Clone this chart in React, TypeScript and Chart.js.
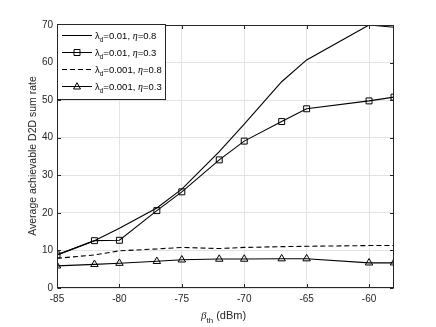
import React, { useEffect, useRef } from "react";
import { Chart, registerables } from "chart.js";
Chart.register(...registerables);

const xValues = [-85, -82, -80, -77, -75, -72, -70, -67, -65, -60, -58];
// λd=0.01, η=0.8
const seriesA = [8.8, 12.6, 15.9, 21.3, 26.3, 36.3, 43.6, 54.9, 60.7, 70.0, 69.4];
// λd=0.01, η=0.3
const seriesB = [8.8, 12.6, 12.7, 20.6, 25.6, 34.1, 39.1, 44.3, 47.7, 49.8, 50.8];
// λd=0.001, η=0.8
const seriesC = [7.9, 8.8, 9.9, 10.4, 10.8, 10.5, 10.8, 11.0, 11.1, 11.3, 11.3];
// λd=0.001, η=0.3
const seriesD = [5.9, 6.3, 6.6, 7.1, 7.5, 7.7, 7.7, 7.8, 7.8, 6.7, 6.7];

const xTicks = [-85, -80, -75, -70, -65, -60];
const yTicks = [0, 10, 20, 30, 40, 50, 60, 70];
const legendLambda = ["0.01", "0.01", "0.001", "0.001"];
const legendEta = ["0.8", "0.3", "0.8", "0.3"];
const yTitle = "Average achievable D2D sum rate";

const FONT = '"Liberation Sans", Arial, Helvetica, sans-serif';
const AXIS = "#262626";

const toPts = (ys: number[]) => xValues.map((x, i) => ({ x, y: ys[i] }));

const decorPlugin = {
  id: "decor",
  afterDatasetsDraw(chart: any) {
    const ctx = chart.ctx as CanvasRenderingContext2D;
    const { left, right, top, bottom } = chart.chartArea;
    const xs = chart.scales.x;
    const ys = chart.scales.y;
    ctx.save();
    // box
    ctx.strokeStyle = AXIS;
    ctx.lineWidth = 1;
    const L = Math.round(left) + 0.5, R = Math.round(right) - 0.5;
    const T = Math.round(top) + 0.5, B = Math.round(bottom) - 0.5;
    ctx.strokeRect(L, T, R - L, B - T);
    // inward ticks
    const tl = 3.5;
    ctx.beginPath();
    xTicks.forEach((v) => {
      const px = Math.round(xs.getPixelForValue(v)) + 0.5;
      ctx.moveTo(px, B); ctx.lineTo(px, B - tl);
      ctx.moveTo(px, T); ctx.lineTo(px, T + tl);
    });
    yTicks.forEach((v) => {
      const py = Math.round(ys.getPixelForValue(v)) + 0.5;
      ctx.moveTo(L, py); ctx.lineTo(L + tl, py);
      ctx.moveTo(R, py); ctx.lineTo(R - tl, py);
    });
    ctx.stroke();

    // x title
    ctx.fillStyle = AXIS;
    ctx.textBaseline = "alphabetic";
    ctx.textAlign = "left";
    let x = 201;
    const by = 319;
    ctx.font = `italic 11px "Liberation Serif", serif`;
    ctx.fillText("β", x, by);
    x += ctx.measureText("β").width;
    ctx.font = `8px ${FONT}`;
    ctx.fillText("th", x, by + 4);
    x += ctx.measureText("th").width;
    ctx.font = `11px ${FONT}`;
    ctx.fillText(" (dBm)", x, by);

    // y title
    ctx.save();
    ctx.translate(36, 156);
    ctx.rotate(-Math.PI / 2);
    ctx.textAlign = "center";
    ctx.font = `10.5px ${FONT}`;
    ctx.fillText(yTitle, 0, 0);
    ctx.restore();

    // legend
    const bx = 57.5, bt = 24.5, bw = 108, bh = 75;
    ctx.fillStyle = "#ffffff";
    ctx.fillRect(bx, bt, bw, bh);
    ctx.strokeStyle = AXIS;
    ctx.lineWidth = 1;
    ctx.strokeRect(bx, bt, bw, bh);
    const rowsY = [35.5, 52.5, 69.5, 86.5];
    const dsets = chart.data.datasets;
    rowsY.forEach((ry, i) => {
      const ds = dsets[i];
      ctx.save();
      ctx.strokeStyle = "#000";
      ctx.lineWidth = 1;
      ctx.setLineDash(ds.borderDash || []);
      ctx.beginPath();
      ctx.moveTo(62, ry);
      ctx.lineTo(92, ry);
      ctx.stroke();
      ctx.setLineDash([]);
      if (ds.pointRadius > 0) {
        ctx.beginPath();
        if (ds.pointStyle === "rect") {
          ctx.rect(74, ry - 3, 6, 6);
        } else {
          ctx.moveTo(77, ry - 3.8);
          ctx.lineTo(80.5, ry + 2.5);
          ctx.lineTo(73.5, ry + 2.5);
          ctx.closePath();
        }
        ctx.stroke();
      }
      ctx.restore();
      ctx.fillStyle = "#000";
      ctx.textBaseline = "alphabetic";
      let tx = 95;
      const tb = ry + 3.5;
      ctx.font = `9.5px ${FONT}`;
      ctx.fillText("λ", tx, tb);
      tx += ctx.measureText("λ").width;
      ctx.font = `6.5px ${FONT}`;
      ctx.fillText("d", tx, tb + 3);
      tx += ctx.measureText("d").width;
      ctx.font = `9.5px ${FONT}`;
      const s1 = "=" + legendLambda[i] + ", ";
      ctx.fillText(s1, tx, tb);
      tx += ctx.measureText(s1).width;
      ctx.font = `italic 10px "Liberation Serif", serif`;
      ctx.fillText("η", tx, tb);
      tx += ctx.measureText("η").width;
      ctx.font = `9.5px ${FONT}`;
      ctx.fillText("=" + legendEta[i], tx, tb);
    });
    ctx.restore();
  },
};

export default function App() {
  const ref = useRef<HTMLCanvasElement | null>(null);
  useEffect(() => {
    if (!ref.current) return;
    const common = {
      borderColor: "#000",
      backgroundColor: "transparent",
      borderWidth: 1.1,
      pointBorderColor: "#000",
      pointBackgroundColor: "transparent",
      pointBorderWidth: 1,
      tension: 0,
      fill: false,
    };
    const chart = new Chart(ref.current, {
      type: "line",
      data: {
        datasets: [
          { ...common, label: "a", data: toPts(seriesA), pointRadius: 0 },
          { ...common, label: "b", data: toPts(seriesB), pointStyle: "rect", pointRadius: 4.2 },
          { ...common, label: "c", data: toPts(seriesC), pointRadius: 0, borderDash: [5, 3] },
          { ...common, label: "d", data: toPts(seriesD), pointStyle: "triangle", pointRadius: 4.3 },
        ] as any,
      },
      options: {
        animation: false,
        responsive: false,
        maintainAspectRatio: false,
        layout: { padding: { top: 25, right: 42, left: 0, bottom: 0 } },
        plugins: { legend: { display: false }, tooltip: { enabled: false } },
        scales: {
          x: {
            type: "linear",
            min: -85,
            max: -58,
            afterBuildTicks: (s: any) => { s.ticks = xTicks.map((v) => ({ value: v })); },
            afterFit: (s: any) => { s.height = 39; },
            grid: { color: "#e3e3e3", drawTicks: false, lineWidth: 1 },
            border: { display: false },
            ticks: { color: AXIS, font: { family: FONT, size: 10 }, padding: 5, maxRotation: 0 },
          },
          y: {
            type: "linear",
            min: 0,
            max: 70,
            afterBuildTicks: (s: any) => { s.ticks = yTicks.map((v) => ({ value: v })); },
            afterFit: (s: any) => { s.width = 57; },
            grid: { color: "#e3e3e3", drawTicks: false, lineWidth: 1 },
            border: { display: false },
            ticks: { color: AXIS, font: { family: FONT, size: 10 }, padding: 4 },
          },
        },
      } as any,
      plugins: [decorPlugin],
    });
    return () => chart.destroy();
  }, []);
  return (
    <div style={{ position: "fixed", left: 0, top: 0, width: 436, height: 327, background: "#fff" }}>
      <canvas ref={ref} width={436} height={327} style={{ width: 436, height: 327, display: "block" }} />
    </div>
  );
}
